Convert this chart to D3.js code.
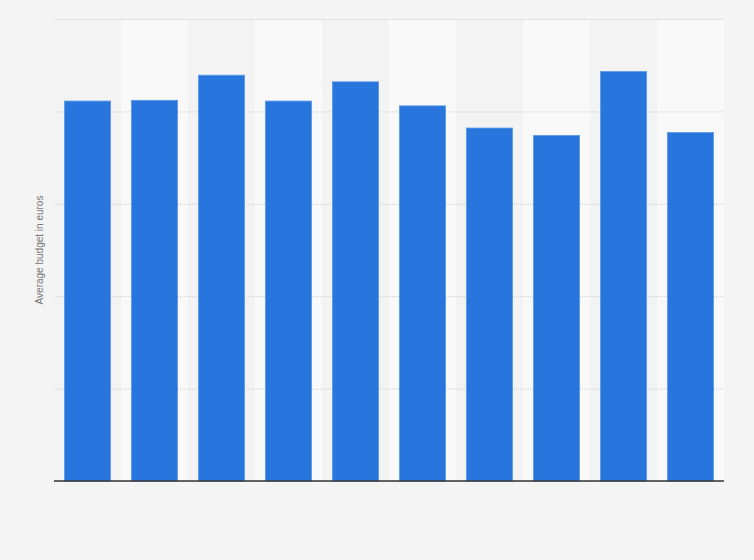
<!DOCTYPE html>
<html>
<head>
<meta charset="utf-8">
<script src="https://d3js.org/d3.v7.min.js"></script>
<style>
  html, body { margin: 0; padding: 0; background: #f4f4f4; }
  svg { display: block; font-family: "Liberation Sans", Arial, sans-serif; }
</style>
</head>
<body>
<div id="chart"></div>
<script>
/* Data (no category or tick labels are shown) */
const categories = ['1', '2', '3', '4', '5', '6', '7', '8', '9', '10'];
const budgets    = [1028, 1030, 1098, 1028, 1080, 1015, 955, 935, 1108, 943];
const yTicks     = [0, 250, 500, 750, 1000, 1250];

const W = 754, H = 560;
const margin = { top: 19, right: 30, bottom: 79, left: 54 };
const innerW = W - margin.left - margin.right;
const innerH = H - margin.top - margin.bottom;

const svg = d3.select('#chart')
  .append('svg')
  .attr('width', W)
  .attr('height', H);

svg.append('rect')
  .attr('width', W).attr('height', H)
  .attr('fill', '#f4f4f4');

const g = svg.append('g')
  .attr('transform', `translate(${margin.left},${margin.top})`);

const x = d3.scaleBand()
  .domain(categories)
  .range([0, innerW])
  .paddingInner(0.31)
  .paddingOuter(0.155);

const y = d3.scaleLinear()
  .domain([0, 1250])
  .range([innerH, 0]);

/* Alternating band shading */
const step = x.step();
g.append('g')
  .selectAll('rect')
  .data(categories)
  .join('rect')
  .attr('x', (d, i) => i * step)
  .attr('y', 0)
  .attr('width', step)
  .attr('height', innerH)
  .attr('fill', (d, i) => i % 2 ? '#f9f9f9' : '#f3f3f3');

/* Gridlines */
g.append('g')
  .call(d3.axisLeft(y).tickValues(yTicks).tickSize(-innerW).tickFormat(''))
  .call(a => a.select('.domain').remove())
  .call(a => a.selectAll('line')
    .attr('stroke', '#cfcfcf')
    .attr('stroke-dasharray', '1,1'));

/* Bars */
g.append('g')
  .selectAll('rect')
  .data(budgets)
  .join('rect')
  .attr('x', (d, i) => x(categories[i]))
  .attr('y', d => y(d))
  .attr('width', x.bandwidth())
  .attr('height', d => innerH - y(d))
  .attr('fill', '#2876dd')
  .attr('stroke', '#5c9be8')
  .attr('stroke-width', 0.8);

/* Baseline */
g.append('line')
  .attr('x1', 0).attr('x2', innerW)
  .attr('y1', innerH).attr('y2', innerH)
  .attr('stroke', '#333')
  .attr('stroke-width', 1.5);

/* Y-axis title */
svg.append('text')
  .attr('transform', 'translate(43,250) rotate(-90)')
  .attr('text-anchor', 'middle')
  .attr('font-size', 10)
  .attr('fill', '#777')
  .text('Average budget in euros');
</script>
</body>
</html>
